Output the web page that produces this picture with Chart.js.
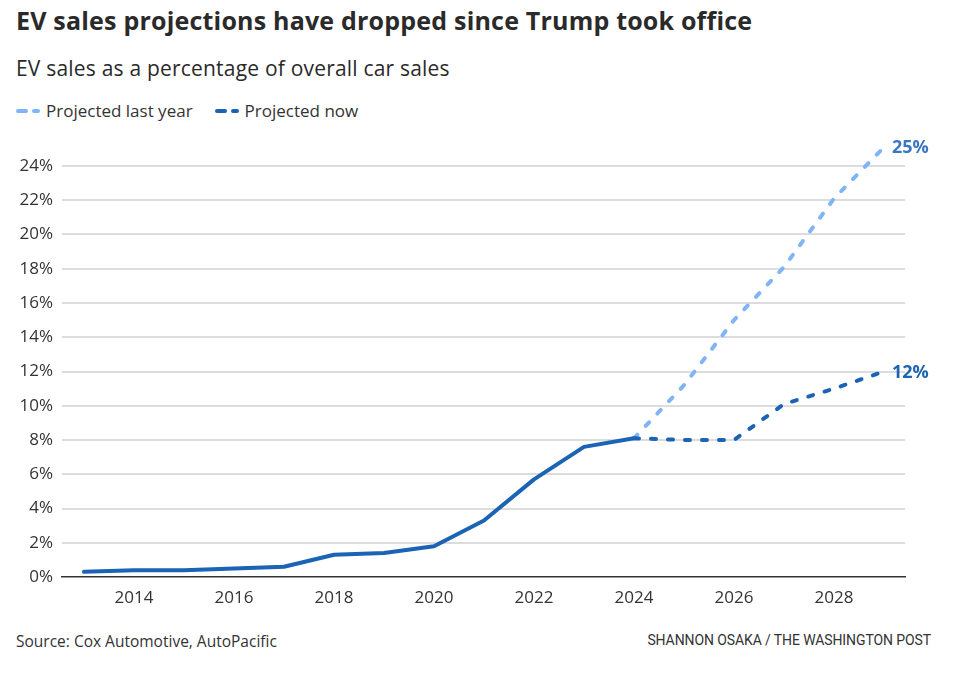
<!DOCTYPE html>
<html>
<head>
<meta charset="utf-8">
<script src="https://cdn.jsdelivr.net/npm/chart.js@4.4.1/dist/chart.umd.min.js"></script>
<style>
  body { margin: 0; width: 962px; height: 676px; background: #fff; position: relative; overflow: hidden; font-family: "Open Sans", "Noto Sans", sans-serif; color: #222; }
  .title { position: absolute; left: 16px; top: 3px; font-size: 25px; font-weight: 700; color: #2a2a2a; letter-spacing: 0.2px; }
  .subtitle { position: absolute; left: 16px; top: 54px; font-size: 21px; font-weight: 400; color: #2a2a2a; letter-spacing: 0.2px; }
  .legend { position: absolute; left: 16px; top: 99px; font-size: 17px; color: #333; display: flex; align-items: center; }
  .legend span.item { display: inline-flex; align-items: center; margin-right: 22px; }
  .legend svg { margin-right: 6px; }
  .source { position: absolute; left: 16px; top: 630px; font-size: 15.5px; color: #333; }
  .credit { position: absolute; right: 31px; top: 632px; font-size: 14px; color: #333; letter-spacing: -0.1px; font-family: "Liberation Sans Narrow", Roboto, sans-serif; }
  #wrap { position: absolute; left: 0; top: 130px; width: 962px; height: 490px; }
</style>
</head>
<body>
<div class="title">EV sales projections have dropped since Trump took office</div>
<div class="subtitle">EV sales as a percentage of overall car sales</div>
<div class="legend">
  <span class="item"><svg width="24" height="8"><line x1="2" y1="4" x2="22" y2="4" stroke="#80b4f7" stroke-width="4" stroke-linecap="round" stroke-dasharray="8,8"/></svg>Projected last year</span>
  <span class="item"><svg width="24" height="8"><line x1="2" y1="4" x2="22" y2="4" stroke="#1a63b5" stroke-width="4" stroke-linecap="round" stroke-dasharray="8,8"/></svg>Projected now</span>
</div>
<div id="wrap"><canvas id="chart"></canvas></div>
<div class="source">Source: Cox Automotive, AutoPacific</div>
<div class="credit">SHANNON OSAKA / THE WASHINGTON POST</div>

<script>
// Data
const histYears = [2013, 2014, 2015, 2016, 2017, 2018, 2019, 2020, 2021, 2022, 2023, 2024];
const histValues = [0.3, 0.4, 0.4, 0.5, 0.6, 1.3, 1.4, 1.8, 3.3, 5.7, 7.6, 8.1];
const projYears = [2024, 2025, 2026, 2027, 2028, 2029];
const projLastYear = [8.1, 11.2, 15.0, 18.1, 22.1, 25.1];
const projNow = [8.1, 8.0, 8.0, 10.1, 11.0, 12.0];
const xTicks = [2014, 2016, 2018, 2020, 2022, 2024, 2026, 2028];
const yTicks = [0, 2, 4, 6, 8, 10, 12, 14, 16, 18, 20, 22, 24];
const endLabels = ['25%', '12%'];

const darkBlue = '#1a63b5';
const lightBlue = '#80b4f7';

function toPoints(xs, ys) {
    return xs.map((x, i) => ({ x: x, y: ys[i] }));
}

// Draws the "25%" / "12%" labels next to the last projected points
const endLabelPlugin = {
    id: 'endLabels',
    afterDatasetsDraw(chart) {
        const ctx = chart.ctx;
        ctx.save();
        ctx.font = 'bold 18px "Open Sans", sans-serif';
        ctx.textBaseline = 'middle';
        ctx.textAlign = 'left';
        [0, 1].forEach((dsIndex) => {
            const meta = chart.getDatasetMeta(dsIndex);
            const last = meta.data[meta.data.length - 1];
            ctx.fillStyle = dsIndex === 0 ? '#3a76c2' : '#1f63b3';
            ctx.fillText(endLabels[dsIndex], last.x + 8, last.y + 1);
        });
        ctx.restore();
    }
};

const ctx = document.getElementById('chart').getContext('2d');
new Chart(ctx, {
    type: 'line',
    data: {
        datasets: [
            {
                label: 'Projected last year',
                data: toPoints(projYears, projLastYear),
                borderColor: lightBlue,
                borderWidth: 4,
                borderDash: [5, 12],
                borderCapStyle: 'round',
                pointRadius: 0,
                tension: 0,
                clip: false,
                order: 3
            },
            {
                label: 'Projected now',
                data: toPoints(projYears, projNow),
                borderColor: darkBlue,
                borderWidth: 4,
                borderDash: [5, 12],
                borderCapStyle: 'round',
                pointRadius: 0,
                tension: 0,
                clip: false,
                order: 2
            },
            {
                label: 'Actual',
                data: toPoints(histYears, histValues),
                borderColor: darkBlue,
                borderWidth: 4,
                borderCapStyle: 'round',
                borderJoinStyle: 'round',
                pointRadius: 0,
                tension: 0,
                clip: false,
                order: 1
            }
        ]
    },
    options: {
        responsive: true,
        maintainAspectRatio: false,
        animation: false,
        layout: { padding: { top: 36, right: 57, left: 0, bottom: 0 } },
        plugins: {
            legend: { display: false },
            tooltip: { enabled: false }
        },
        scales: {
            x: {
                type: 'linear',
                min: 2012.56,
                max: 2029.42,
                afterFit: function(scale) { scale.height = 43; },
                afterBuildTicks: function(scale) {
                    scale.ticks = xTicks.map((v) => ({ value: v }));
                },
                grid: { display: false, drawTicks: false },
                border: { display: true, color: '#333', width: 1.5 },
                ticks: {
                    padding: 11,
                    color: '#333',
                    font: { size: 17, family: 'Open Sans' },
                    callback: (v) => String(v)
                }
            },
            y: {
                min: 0,
                max: 24,
                afterFit: function(scale) { scale.width = 62; },
                afterBuildTicks: function(scale) {
                    scale.ticks = yTicks.map((v) => ({ value: v }));
                },
                grid: {
                    color: (c) => c.tick && c.tick.value === 0 ? 'rgba(0,0,0,0)' : '#dcdcdc',
                    lineWidth: 2,
                    drawTicks: false
                },
                border: { display: false },
                ticks: {
                    padding: 9,
                    color: '#333',
                    font: { size: 17, family: 'Open Sans' },
                    callback: (v) => v + '%'
                }
            }
        }
    },
    plugins: [endLabelPlugin]
});
</script>
</body>
</html>
